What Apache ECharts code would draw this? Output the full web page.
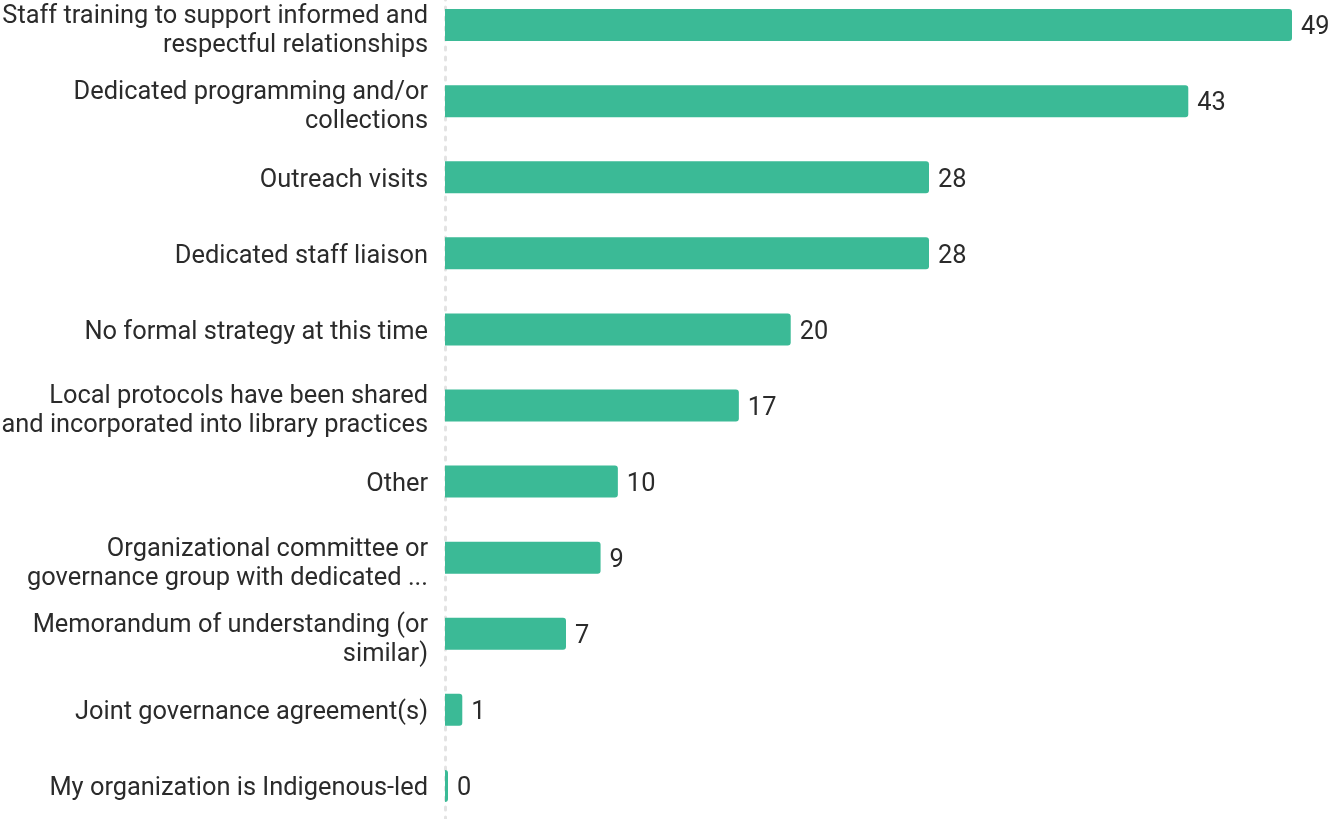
<!DOCTYPE html>
<html>
<head>
<meta charset="utf-8">
<script src="https://cdn.jsdelivr.net/npm/echarts@6/dist/echarts.min.js"></script>
<style>
  html, body { margin: 0; padding: 0; background: #ffffff; overflow: hidden; }
  /* The plot runs slightly past the page edges, top and bottom */
  #chart { position: absolute; left: 0; top: -13px; width: 1335px; height: 837px; }
</style>
</head>
<body>
<div id="chart"></div>
<script>
// Strategies reported, listed top to bottom
const categories = [
  'Staff training to support informed and\nrespectful relationships',
  'Dedicated programming and/or\ncollections',
  'Outreach visits',
  'Dedicated staff liaison',
  'No formal strategy at this time',
  'Local protocols have been shared\nand incorporated into library practices',
  'Other',
  'Organizational committee or\ngovernance group with dedicated ...',
  'Memorandum of understanding (or\nsimilar)',
  'Joint governance agreement(s)',
  'My organization is Indigenous-led'
];
const counts = [49, 43, 28, 28, 20, 17, 10, 9, 7, 1, 0];

const LABEL_FONT = { fontFamily: 'Roboto', fontSize: 25.4, color: '#2b2b2b', lineHeight: 29 };

const chart = echarts.init(document.getElementById('chart'));
chart.setOption({
  animation: false,
  grid: { left: 445, right: 43, top: 0, bottom: 0, outerBoundsMode: 'none', containLabel: false },
  xAxis: {
    type: 'value',
    min: 0,
    max: 49,
    show: false
  },
  yAxis: {
    type: 'category',
    inverse: true,
    data: categories,
    axisLine: {
      show: true,
      lineStyle: { color: '#e3e3e3', width: 3, type: [3, 7] }
    },
    axisTick: { show: false },
    splitLine: { show: false },
    axisLabel: {
      interval: 0,
      margin: 17,
      align: 'right',
      ...LABEL_FONT,
      // two-line labels sit a little lower than single-line ones
      formatter: value => {
        const lines = value.split('\n');
        const key = lines.length > 1 ? 'm' : 's';
        return lines.map(line => '{' + key + '|' + line + '}').join('\n');
      },
      rich: {
        s: { ...LABEL_FONT, padding: [6, 0, 0, 0] },
        m: { ...LABEL_FONT, padding: [12, 0, 0, 0] }
      }
    }
  },
  series: [{
    type: 'bar',
    data: counts,
    barWidth: 32,
    barMinHeight: 3,
    itemStyle: { color: '#3bba96', borderRadius: [0, 3, 3, 0] },
    label: {
      show: true,
      position: 'right',
      distance: 9,
      offset: [0, 3],
      color: '#2b2b2b',
      fontFamily: 'Roboto',
      fontSize: 25.4
    }
  }]
});
</script>
</body>
</html>
